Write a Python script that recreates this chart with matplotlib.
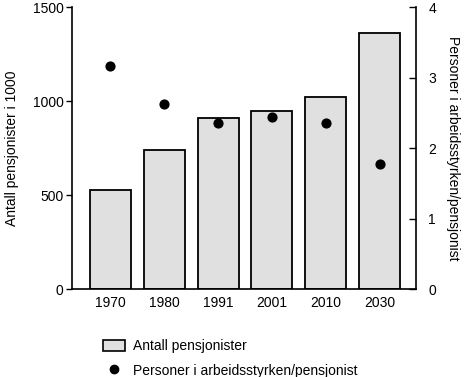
import matplotlib
matplotlib.use("Agg")
import matplotlib.pyplot as plt
from matplotlib.patches import Patch
from matplotlib.lines import Line2D

years = ["1970", "1980", "1991", "2001", "2010", "2030"]
pensioners = [525, 740, 910, 948, 1022, 1363]
workers_per_pensioner = [3.17, 2.63, 2.36, 2.44, 2.36, 1.77]

plt.rcParams['font.family'] = ['Liberation Sans', 'DejaVu Sans']
plt.rcParams['font.size'] = 10

fig = plt.figure(figsize=(4.72, 3.77), dpi=100)
ax = fig.add_axes([0.1525, 0.2334, 0.7285, 0.748])
x = list(range(len(years)))
ax.bar(x, pensioners, width=0.76, color='#e0e0e0', edgecolor='black', linewidth=1.3, zorder=2)
ax.set_xlim(-0.71, 5.67)
ax.set_ylim(0, 1500)
ax.set_yticks([0, 500, 1000, 1500])
ax.set_xticks(x)
ax.set_xticklabels(years)
ax.tick_params(axis='x', length=0, pad=5)
ax.tick_params(axis='y', length=4, width=1, direction='out', pad=2)
ax.spines['top'].set_visible(False)
ax.spines['right'].set_visible(False)
for s in ['left', 'bottom']:
    ax.spines[s].set_linewidth(1.2)
ax.set_ylabel("Antall pensjonister i 1000", labelpad=10)

ax2 = ax.twinx()
ax2.scatter(x, workers_per_pensioner, s=40, color='black', zorder=3)
ax2.set_ylim(0, 4)
ax2.set_yticks([0, 1, 2, 3, 4])
ax2.tick_params(axis='y', length=5, width=1, direction='in', pad=9)
ax2.spines['top'].set_visible(False)
ax2.spines['left'].set_visible(False)
ax2.spines['bottom'].set_visible(False)
ax2.spines['right'].set_linewidth(1.2)
ax2.set_ylabel("Personer i arbeidsstyrken/pensjonist", rotation=270, labelpad=17)

handles = [Patch(facecolor='#e0e0e0', edgecolor='black', linewidth=1.2, label='Antall pensjonister'),
           Line2D([], [], marker='o', linestyle='none', color='black', markersize=6,
                  label='Personer i arbeidsstyrken/pensjonist')]
fig.legend(handles=handles, loc='upper left', bbox_to_anchor=(0.218, 0.1, ), frameon=False,
           handlelength=1.6, handleheight=0.9, handletextpad=0.55, labelspacing=0.75,
           borderpad=0, borderaxespad=0)

fig.savefig("out.png", dpi=100)
